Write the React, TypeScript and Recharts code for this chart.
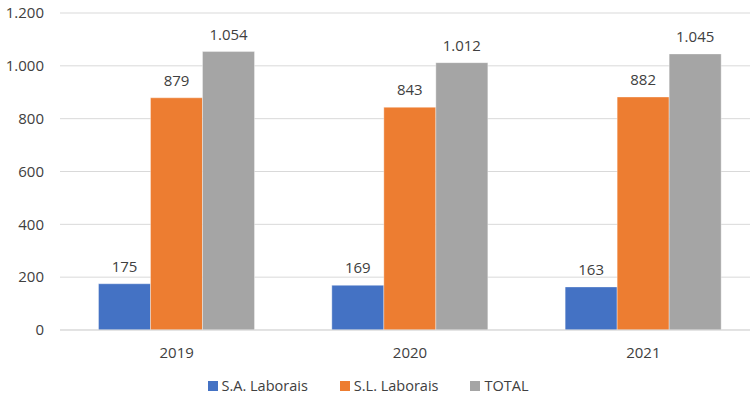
import React from "react";
import { BarChart, Bar, XAxis, YAxis, CartesianGrid, Legend, LabelList } from "recharts";

const years = ["2019", "2020", "2021"];
const saLaborais = [175, 169, 163];
const slLaborais = [879, 843, 882];
const total = [1054, 1012, 1045];
const yTicks = [0, 200, 400, 600, 800, 1000, 1200];

const series = [
  { key: "sa", name: "S.A. Laborais", color: "#4472C4" },
  { key: "sl", name: "S.L. Laborais", color: "#ED7D31" },
  { key: "total", name: "TOTAL", color: "#A5A5A5" },
];

const data = years.map((y, i) => ({ year: y, sa: saLaborais[i], sl: slLaborais[i], total: total[i] }));

const FONT = "'Open Sans', 'Noto Sans', sans-serif";
const TEXT = "#404040";

function fmt(v: number) {
  return String(v).replace(/\B(?=(\d{3})+(?!\d))/g, ".");
}

function LegendContent() {
  return (
    <div style={{ display: "flex", justifyContent: "center", paddingRight: 24, fontFamily: FONT, fontSize: 14.5, lineHeight: "20px", color: TEXT }}>
      {series.map((s) => (
        <div key={s.key} style={{ display: "flex", alignItems: "center", margin: "0 16px" }}>
          <span style={{ width: 10, height: 10, background: s.color, marginRight: 4, display: "inline-block" }} />
          <span>{s.name}</span>
        </div>
      ))}
    </div>
  );
}

export default function App() {
  return (
    <div style={{ position: "absolute", top: 0, left: 0, width: 750, height: 397, overflow: "hidden", background: "#fff" }}>
      <BarChart
        width={760}
        height={397}
        data={data}
        margin={{ top: 13, right: 0, bottom: 0, left: 0 }}
        barCategoryGap="16.5%"
        barGap={0}
      >
        <CartesianGrid vertical={false} stroke="#d9d9d9" />
        <XAxis
          dataKey="year"
          axisLine={{ stroke: "#d9d9d9" }}
          tickLine={false}
          tickSize={0}
          tickMargin={17}
          height={46}
          tick={{ fontSize: 15, fill: TEXT, fontFamily: FONT }}
        />
        <YAxis
          domain={[0, 1200]}
          ticks={yTicks}
          axisLine={false}
          tickLine={false}
          tickSize={0}
          tickMargin={16}
          width={60}
          tickFormatter={fmt}
          tick={{ fontSize: 15, fill: TEXT, fontFamily: FONT }}
        />
        <Legend verticalAlign="bottom" height={21} wrapperStyle={{ bottom: 0 }} content={<LegendContent />} />
        {series.map((s) => (
          <Bar
            key={s.key}
            dataKey={s.key}
            name={s.name}
            fill={s.color}
            stroke="#ffffff"
            strokeOpacity={0.35}
            isAnimationActive={false}
          >
            <LabelList
              dataKey={s.key}
              position="top"
              offset={12}
              formatter={(v: any) => fmt(Number(v))}
              style={{ fontSize: 15, fill: TEXT, fontFamily: FONT }}
            />
          </Bar>
        ))}
      </BarChart>
    </div>
  );
}
